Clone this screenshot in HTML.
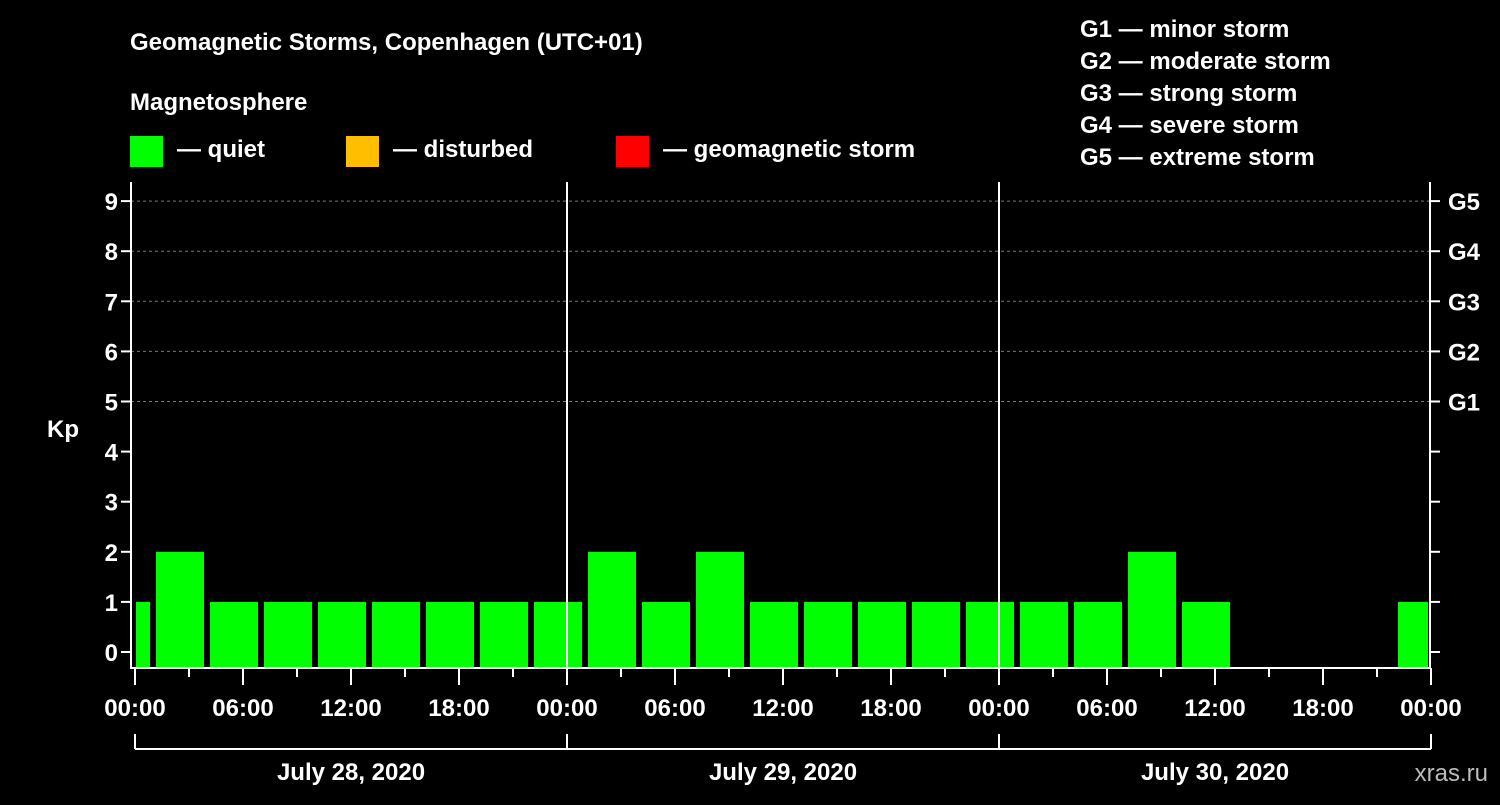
<!DOCTYPE html>
<html><head><meta charset="utf-8"><style>
body{margin:0;background:#000;width:1500px;height:800px;overflow:hidden}
svg text{font-family:"Liberation Sans",Arial,sans-serif;font-weight:bold;fill:#fff}
</style></head><body>
<svg id="c" width="1500" height="800">
<text x="130" y="50" font-size="24">Geomagnetic Storms, Copenhagen (UTC+01)</text>
<text x="130" y="110" font-size="24">Magnetosphere</text>
<rect x="130" y="136" width="33" height="31" fill="#00ff00"/>
<text x="177" y="157" font-size="24">— quiet</text>
<rect x="346" y="136" width="33" height="31" fill="#ffbf00"/>
<text x="393" y="157" font-size="24">— disturbed</text>
<rect x="616" y="136" width="33" height="31" fill="#ff0000"/>
<text x="663" y="157" font-size="24">— geomagnetic storm</text>
<g font-size="24">
<text x="1080" y="37">G1 — minor storm</text>
<text x="1080" y="69">G2 — moderate storm</text>
<text x="1080" y="101">G3 — strong storm</text>
<text x="1080" y="133">G4 — severe storm</text>
<text x="1080" y="165">G5 — extreme storm</text>
</g>
<text x="63" y="437" font-size="24" text-anchor="middle">Kp</text>
<text x="1488" y="781" font-size="24" text-anchor="end" fill="#ccc" style="fill:#bbb;font-weight:normal">xras.ru</text>
<g id="plot"></g>
</svg>
<script>
const hours=[-0.5,2.5,5.5,8.5,11.5,14.5,17.5,20.5,23.5,26.5,29.5,32.5,35.5,38.5,41.5,44.5,47.5,50.5,53.5,56.5,59.5,71.5];
const kpValues=[1,2,1,1,1,1,1,1,1,2,1,2,1,1,1,1,1,1,1,2,1,1];
const yTicks=[0,1,2,3,4,5,6,7,8,9];
const gLabels=["G1","G2","G3","G4","G5"];
const xLabels=["00:00","06:00","12:00","18:00"];
const days=["July 28, 2020","July 29, 2020","July 30, 2020"];
const NS="http://www.w3.org/2000/svg";
const g=document.getElementById('plot');
const X=h=>135+h*18, Y=v=>652-v*50.1;
const L=131,R=1430,T=182,B=668;
function mk(t,a,txt){const e=document.createElementNS(NS,t);for(const k in a)e.setAttribute(k,a[k]);if(txt!==undefined)e.textContent=txt;g.appendChild(e);return e;}
const cp=mk('clipPath',{id:'cl'});const cr=document.createElementNS(NS,'rect');cr.setAttribute('x',L+5);cr.setAttribute('y',T);cr.setAttribute('width',R-L-7);cr.setAttribute('height',B-T);cp.appendChild(cr);
yTicks.forEach(v=>{if(v>=5){const e=mk('line',{x1:L,x2:R,y1:Y(v),y2:Y(v),stroke:'#777','stroke-dasharray':'3,3'});
}
const t1=mk('line',{x1:L-10,x2:L,y1:Y(v),y2:Y(v),stroke:'#fff','stroke-width':2});
const t2=mk('line',{x1:R,x2:R+10,y1:Y(v),y2:Y(v),stroke:'#fff','stroke-width':2});
const tl=mk('text',{x:L-13,y:Y(v)+9,'font-size':24,'text-anchor':'end'},v);
if(v>=5){const gl=mk('text',{x:R+18,y:Y(v)+9,'font-size':24},gLabels[v-5]);}});
const bg=mk('g',{'clip-path':'url(#cl)'});
hours.forEach((h,i)=>{const r=document.createElementNS(NS,'rect');r.setAttribute('x',X(h)-24);r.setAttribute('width',48);r.setAttribute('y',Y(kpValues[i]));r.setAttribute('height',B-Y(kpValues[i]));r.setAttribute('fill','#00ff00');

bg.appendChild(r);});
[1,2].forEach(d=>{const e=mk('line',{x1:X(d*24),x2:X(d*24),y1:T,y2:B,stroke:'#fff','stroke-width':2});});
const ax=mk('path',{d:`M${L} ${T}V${B}H${R}V${T}`,fill:'none',stroke:'#fff','stroke-width':2});
for(let h=0;h<=72;h+=3){const maj=h%6==0;const e=mk('line',{x1:X(h),x2:X(h),y1:B,y2:B+(maj?17:9),stroke:'#fff','stroke-width':2});
if(maj){const t=mk('text',{x:X(h),y:716,'font-size':24,'text-anchor':'middle'},xLabels[(h/6)%4]);}}
const br=mk('line',{x1:X(0),x2:X(72),y1:749,y2:749,stroke:'#fff','stroke-width':2});
for(let d=0;d<=3;d++){const e=mk('line',{x1:X(d*24),x2:X(d*24),y1:734,y2:749,stroke:'#fff','stroke-width':2});}
days.forEach((s,d)=>{const t=mk('text',{x:X(d*24+12),y:780,'font-size':24,'text-anchor':'middle'},s);});
</script>
</body></html>
